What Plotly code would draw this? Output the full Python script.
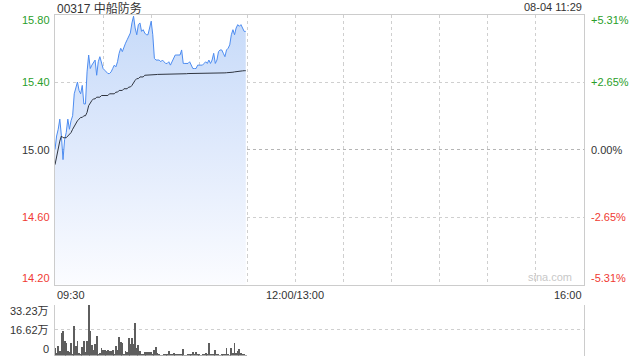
import plotly.graph_objects as go

# ---- data (minutes since 09:30) ----
minutes = list(range(120))
price = [15.00, 15.08, 15.12, 15.18, 15.08, 14.94, 15.06, 15.10, 15.18, 15.12,
         15.17, 15.20, 15.33, 15.36, 15.40, 15.35, 15.33, 15.38, 15.27, 15.27,
         15.46, 15.56, 15.48, 15.50, 15.52, 15.53, 15.44, 15.52, 15.55, 15.51,
         15.48, 15.47, 15.46, 15.45, 15.45, 15.46, 15.48, 15.50, 15.49, 15.52,
         15.57, 15.60, 15.58, 15.61, 15.63, 15.65, 15.67, 15.69, 15.75, 15.79,
         15.72, 15.68, 15.74, 15.75, 15.70, 15.71, 15.69, 15.68, 15.68, 15.72,
         15.76, 15.68, 15.54, 15.53, 15.53, 15.53, 15.52, 15.53, 15.52, 15.51,
         15.51, 15.52, 15.50, 15.52, 15.54, 15.56, 15.56, 15.56, 15.56, 15.59,
         15.51, 15.51, 15.51, 15.51, 15.52, 15.50, 15.48, 15.48, 15.48, 15.50,
         15.50, 15.50, 15.50, 15.51, 15.52, 15.51, 15.53, 15.51, 15.53, 15.57,
         15.51, 15.53, 15.58, 15.59, 15.59, 15.57, 15.55, 15.59, 15.60, 15.62,
         15.68, 15.71, 15.68, 15.72, 15.74, 15.73, 15.74, 15.72, 15.70, 15.70]
avg_price = [14.91, 14.96, 15.01, 15.05, 15.08, 15.07, 15.07, 15.07, 15.08, 15.09,
             15.10, 15.12, 15.14, 15.16, 15.17, 15.18, 15.19, 15.19, 15.20, 15.20,
             15.22, 15.26, 15.28, 15.29, 15.30, 15.30, 15.31, 15.31, 15.31, 15.32,
             15.32, 15.32, 15.32, 15.32, 15.33, 15.33, 15.33, 15.33, 15.34, 15.34,
             15.35, 15.35, 15.35, 15.36, 15.36, 15.36, 15.37, 15.37, 15.38, 15.40,
             15.41, 15.42, 15.42, 15.43, 15.43, 15.43, 15.44, 15.44, 15.44, 15.44,
             15.44, 15.44, 15.444, 15.444, 15.445, 15.445, 15.445, 15.446, 15.446, 15.446,
             15.447, 15.447, 15.447, 15.447, 15.448, 15.448, 15.448, 15.448, 15.449, 15.449,
             15.449, 15.449, 15.449, 15.45, 15.45, 15.45, 15.45, 15.45, 15.45, 15.45,
             15.45, 15.45, 15.451, 15.451, 15.451, 15.452, 15.452, 15.452, 15.452, 15.453,
             15.453, 15.453, 15.453, 15.454, 15.454, 15.454, 15.454, 15.455, 15.455, 15.456,
             15.457, 15.458, 15.46, 15.462, 15.463, 15.464, 15.465, 15.466, 15.467, 15.467]
volume = [5.1, 2.0, 6.6, 3.0, 14.8, 16.2, 10.0, 8.2, 3.3, 2.9,
          8.6, 1.1, 19.3, 6.2, 9.5, 2.2, 1.1, 6.0, 10.0, 2.5,
          10.0, 33.23, 16.6, 7.3, 3.8, 7.8, 13.3, 1.1, 2.2, 4.9,
          3.8, 4.0, 3.3, 3.8, 3.3, 3.3, 4.0, 1.1, 6.6, 3.8,
          12.6, 8.9, 8.4, 1.1, 3.3, 2.7, 11.5, 7.8, 12.0, 7.8,
          21.5, 5.5, 7.3, 3.3, 1.1, 0.7, 2.9, 2.9, 2.9, 2.7,
          2.7, 1.1, 3.8, 6.0, 1.8, 1.1, 0.4, 0.4, 1.1, 1.1,
          0.7, 3.3, 0.7, 1.1, 1.8, 1.1, 0.7, 1.1, 1.1, 1.5,
          4.4, 0.4, 0.4, 1.5, 0.7, 1.5, 2.7, 0.7, 2.7, 1.5,
          0.7, 0.4, 1.1, 1.1, 1.8, 1.1, 8.2, 0.7, 1.1, 1.1,
          4.0, 0.7, 1.1, 0.4, 1.1, 1.1, 1.1, 4.9, 1.1, 0.4,
          4.9, 2.2, 8.2, 2.2, 3.3, 4.4, 2.2, 1.1, 1.1, 0.5]

prev_close = 15.00
price_ticks = [15.80, 15.40, 15.00, 14.60, 14.20]
price_tick_labels = ["15.80", "15.40", "15.00", "14.60", "14.20"]
pct_tick_labels = ["+5.31%", "+2.65%", "0.00%", "-2.65%", "-5.31%"]
vol_ticks = [33.23, 16.62, 0]
vol_tick_labels = ["33.23万", "16.62万", "0"]
time_ticks = [0, 150, 330]
time_tick_labels = ["09:30", "12:00/13:00", "16:00"]
grid_minutes = list(range(0, 331, 30))
title_text = "00317 中船防务"
stamp_text = "08-04 11:29"

GREEN = "#2a9e2a"
RED = "#f03a32"
DARK = "#333333"
FONT = "Liberation Sans, Arial, Noto Sans CJK SC, sans-serif"

fig = go.Figure()

fig.add_trace(go.Scatter(
    x=minutes, y=price, mode="lines",
    line=dict(color="#4d8cf0", width=1),
    fill="tozeroy",
    fillgradient=dict(type="vertical", start=14.2, stop=15.8,
                      colorscale=[[0, "#fbfcff"], [0.5, "#e0eafc"], [1, "#c6daf9"]]),
    hoverinfo="skip", xaxis="x", yaxis="y"))
fig.add_trace(go.Scatter(
    x=minutes, y=avg_price, mode="lines",
    line=dict(color="#2f3540", width=1),
    hoverinfo="skip", xaxis="x", yaxis="y"))
fig.add_trace(go.Bar(
    x=minutes, y=volume, width=0.5, marker=dict(color="#5e5e5e", line=dict(width=0)),
    hoverinfo="skip", xaxis="x2", yaxis="y2"))

xdom = [55 / 640, 584 / 640]
fig.update_layout(
    width=640, height=360, margin=dict(l=0, r=0, t=0, b=0),
    paper_bgcolor="white", plot_bgcolor="white", showlegend=False,
    font=dict(family=FONT, size=11, color=DARK),
    xaxis=dict(domain=xdom, range=[0, 330], tickvals=grid_minutes, showticklabels=False,
               showgrid=True, gridcolor="#cfcfcf", griddash="dot", gridwidth=1,
               showline=True, linecolor="#cccccc", linewidth=1, mirror=True,
               zeroline=False, ticks="", fixedrange=True),
    yaxis=dict(domain=[1 - 284.5 / 360, 1 - 14.5 / 360], range=[14.2, 15.8],
               tickvals=[15.4, 14.6], showticklabels=False,
               showgrid=True, gridcolor="#cfcfcf", griddash="dot", gridwidth=1,
               showline=True, linecolor="#cccccc", linewidth=1, mirror=True,
               zeroline=False, ticks=""),
    xaxis2=dict(domain=xdom, range=[0, 330], showticklabels=False, showgrid=False,
                showline=False, zeroline=False, ticks="", anchor="y2"),
    yaxis2=dict(domain=[1 - 355.5 / 360, 1 - 304.5 / 360], range=[0, 33.23],
                tickvals=vol_ticks, showticklabels=False,
                showgrid=True, gridcolor="#cfcfcf", griddash="dot", gridwidth=1,
                showline=True, linecolor="#cccccc", linewidth=1, mirror=True,
                zeroline=False, ticks="", anchor="x2"),
    bargap=0,
)

# prev close dashed line
fig.add_shape(type="line", xref="x", yref="y", x0=0, x1=330, y0=prev_close, y1=prev_close,
              line=dict(color="#b5b5b5", width=1, dash="3px,3px"), layer="below")

# price tick labels (left) and percent (right)
label_colors = [GREEN, GREEN, DARK, RED, RED]
shifts = [-6, 0, 0, 0, 7]
for v, t, p, c, s in zip(price_ticks, price_tick_labels, pct_tick_labels, label_colors, shifts):
    fig.add_annotation(x=xdom[0], xref="paper", y=v, yref="y", text=t, showarrow=False,
                       xanchor="right", yanchor="middle", xshift=-3, yshift=s,
                       font=dict(color=c, size=11, family=FONT))
    fig.add_annotation(x=xdom[1], xref="paper", y=v, yref="y", text=p, showarrow=False,
                       xanchor="left", yanchor="middle", xshift=5, yshift=s,
                       font=dict(color=c, size=11, family=FONT))

# volume tick labels
vshift = [-6, 0, 7]
for v, t, s in zip(vol_ticks, vol_tick_labels, vshift):
    fig.add_annotation(x=xdom[0], xref="paper", y=v, yref="y2", text=t, showarrow=False,
                       xanchor="right", yanchor="middle", xshift=-4, yshift=s,
                       font=dict(color=DARK, size=11, family=FONT))

# time labels
anchors = ["left", "center", "right"]
for v, t, a in zip(time_ticks, time_tick_labels, anchors):
    fig.add_annotation(x=v, xref="x", y=0, yref="y domain", text=t, showarrow=False,
                       xanchor=a, yanchor="top", yshift=-2,
                       font=dict(color=DARK, size=11, family=FONT))

# title and time stamp
fig.add_annotation(x=xdom[0], xref="paper", y=1, yref="paper", text=title_text, showarrow=False,
                   xanchor="left", yanchor="top", yshift=1,
                   font=dict(color=DARK, size=12, family=FONT))
fig.add_annotation(x=xdom[1], xref="paper", y=1, yref="paper", text=stamp_text, showarrow=False,
                   xanchor="right", yanchor="top", yshift=1,
                   font=dict(color=DARK, size=11, family=FONT))
# watermark
fig.add_annotation(x=xdom[1], xref="paper", y=14.2, yref="y", text="sina.com", showarrow=False,
                   xanchor="right", yanchor="bottom", xshift=-10, yshift=0,
                   font=dict(color="#c8c8c8", size=11, family=FONT))

fig.write_html("out.html")
